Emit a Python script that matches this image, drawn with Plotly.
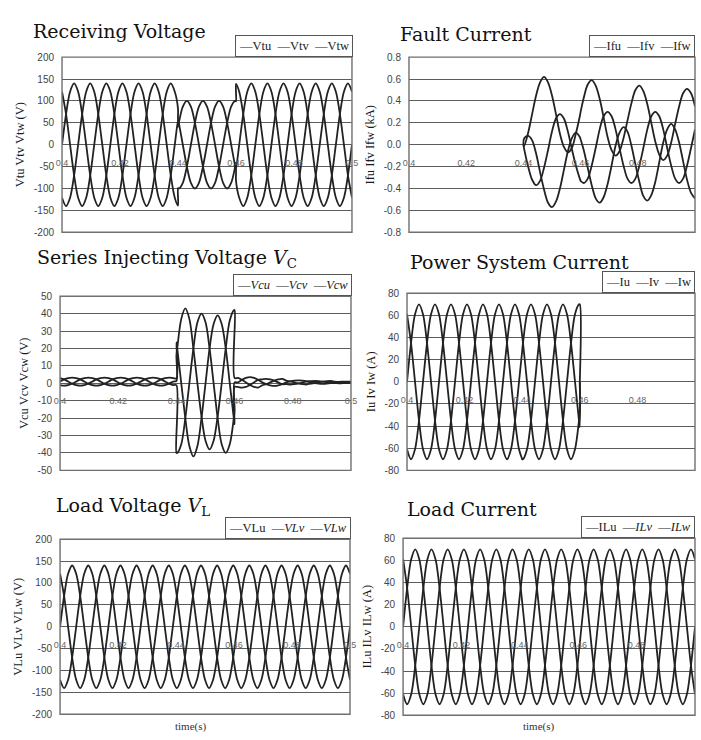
import plotly.graph_objects as go

# ---------------- sampling instants (s): 60 Hz waveforms sampled every 30 deg ----------------
TIME_GRID = [round(0.40 + k / 720.0, 6) for k in range(73)]
FAULT_START = 0.44
FAULT_END = 0.46
TIME_EVT = (TIME_GRID[:29] + [FAULT_START, FAULT_START] + TIME_GRID[29:44]
            + [FAULT_END, FAULT_END] + TIME_GRID[44:])

# ---------------- Receiving voltage (V) ----------------
Vtu = [0, 70, 121, 140, 121, 70, 0, -70, -121, -140, -121, -70,
       0, 70, 121, 140, 121, 70, 0, -70, -121, -140, -121, -70,
       0, 70, 121, 140, 121,
       82, 59,
       50, 0, -50, -87, -100, -87, -50, 0, 50, 87, 100, 87, 50, 0, -50,
       -59, -82,
       -121, -140, -121, -70, 0, 70, 121, 140, 121, 70, 0, -70,
       -121, -140, -121, -70, 0, 70, 121, 140, 121, 70, 0, -70,
       -121, -140, -121, -70, 0]
Vtv = [-121, -140, -121, -70, 0, 70, 121, 140, 121, 70, 0, -70,
       -121, -140, -121, -70, 0, 70, 121, 140, 121, 70, 0, -70,
       -121, -140, -121, -70, 0,
       57, 41,
       50, 87, 100, 87, 50, 0, -50, -87, -100, -87, -50, 0, 50, 87, 100,
       99, 139,
       121, 70, 0, -70, -121, -140, -121, -70, 0, 70, 121, 140,
       121, 70, 0, -70, -121, -140, -121, -70, 0, 70, 121, 140,
       121, 70, 0, -70, -121]
Vtw = [121, 70, 0, -70, -121, -140, -121, -70, 0, 70, 121, 140,
       121, 70, 0, -70, -121, -140, -121, -70, 0, 70, 121, 140,
       121, 70, 0, -70, -121,
       -139, -99,
       -100, -87, -50, 0, 50, 87, 100, 87, 50, 0, -50, -87, -100, -87, -50,
       -41, -57,
       0, 70, 121, 140, 121, 70, 0, -70, -121, -140, -121, -70,
       0, 70, 121, 140, 121, 70, 0, -70, -121, -140, -121, -70,
       0, 70, 121, 140, 121]

# ---------------- Fault current (kA); no trace before the fault ----------------
Ifu = [None, None, None, None, None, None, None, None, None, None, None, None, None, None, None,
       None, None, None, None, None, None, None, None, None, None, None, None, None, None,
       None, 0,
       0.06, 0.08, 0.04, -0.08, -0.25, -0.41, -0.53, -0.57, -0.52, -0.40, -0.23, -0.06, 0.06, 0.11, 0.07,
       0.05, 0.05,
       -0.05, -0.21, -0.37, -0.49, -0.53, -0.48, -0.36, -0.19, -0.01, 0.11, 0.16, 0.12,
       -0.01, -0.18, -0.34, -0.47, -0.51, -0.46, -0.34, -0.16, 0.02, 0.14, 0.19, 0.14,
       0.02, -0.15, -0.32, -0.44, -0.49]
Ifv = [None, None, None, None, None, None, None, None, None, None, None, None, None, None, None,
       None, None, None, None, None, None, None, None, None, None, None, None, None, None,
       None, 0,
       -0.04, -0.20, -0.32, -0.37, -0.33, -0.21, -0.05, 0.12, 0.24, 0.28, 0.24, 0.12, -0.04, -0.19, -0.31,
       -0.33, -0.33,
       -0.35, -0.31, -0.19, -0.03, 0.14, 0.26, 0.30, 0.26, 0.14, -0.03, -0.19, -0.31,
       -0.35, -0.31, -0.19, -0.03, 0.14, 0.26, 0.30, 0.26, 0.14, -0.03, -0.19, -0.31,
       -0.35, -0.31, -0.19, -0.03, 0.14]
Ifw = [None, None, None, None, None, None, None, None, None, None, None, None, None, None, None,
       None, None, None, None, None, None, None, None, None, None, None, None, None, None,
       None, 0,
       -0.01, 0.11, 0.28, 0.45, 0.57, 0.62, 0.57, 0.45, 0.28, 0.10, -0.02, -0.07, -0.03, 0.10, 0.26,
       0.30, 0.30,
       0.43, 0.55, 0.59, 0.54, 0.42, 0.25, 0.07, -0.05, -0.10, -0.06, 0.06, 0.22,
       0.38, 0.50, 0.54, 0.49, 0.37, 0.20, 0.03, -0.09, -0.14, -0.10, 0.02, 0.19,
       0.35, 0.47, 0.51, 0.47, 0.35]

# ---------------- Series injecting voltage Vc (V) ----------------
Vcu = [1.0, 2.2, 3.0, 3.3, 3.0, 2.2, 1.0, -0.2, -1.0, -1.3, -1.0, -0.2,
       1.0, 2.2, 3.0, 3.3, 3.0, 2.2, 1.0, -0.2, -1.0, -1.3, -1.0, -0.2,
       1.0, 2.2, 3.0, 3.3, 3.0,
       2.8, 23.5,
       20, 0, -20, -36, -42, -36, -20, 0, 20, 34, 39, 34, 20, 0, -20,
       -23.5, -2.1,
       -2.1, -2.5, -2.1, -1.0, 0.5, 2.0, 2.2, 2.5, 2.2, 1.5, 0.5, -0.5,
       -0.5, -0.7, -0.5, -0.1, 0.5, 1.1, 1.2, 1.3, 1.2, 0.9, 0.5, 0.1,
       0.1, 0.0, 0.1, 0.3, 0.5]
Vcv = [-1.0, -1.3, -1.0, -0.2, 1.0, 2.2, 3.0, 3.3, 3.0, 2.2, 1.0, -0.2,
       -1.0, -1.3, -1.0, -0.2, 1.0, 2.2, 3.0, 3.3, 3.0, 2.2, 1.0, -0.2,
       -1.0, -1.3, -1.0, -0.2, 1.0,
       1.4, 16,
       20, 37, 43, 37, 20, 0, -19, -33, -38, -33, -19, 0, 20, 36, 42,
       42, 3.0,
       3.1, 2.0, 0.5, -1.0, -2.1, -2.5, -1.2, -0.5, 0.5, 1.5, 2.2, 2.5,
       1.5, 1.1, 0.5, -0.1, -0.5, -0.7, -0.2, 0.1, 0.5, 0.9, 1.2, 1.3,
       0.9, 0.8, 0.5, 0.3, 0.1]
Vcw = [3.0, 2.2, 1.0, -0.2, -1.0, -1.3, -1.0, -0.2, 1.0, 2.2, 3.0, 3.3,
       3.0, 2.2, 1.0, -0.2, -1.0, -1.3, -1.0, -0.2, 1.0, 2.2, 3.0, 3.3,
       3.0, 2.2, 1.0, -0.2, -1.0,
       -1.1, -40,
       -40, -35, -20, 0, 20, 35, 40, 35, 20, 0, -20, -35, -40, -35, -20,
       -16, 0.5,
       0.5, 2.0, 3.1, 3.5, 3.1, 2.0, 0.5, -0.5, -1.2, -1.5, -1.2, -0.5,
       0.5, 1.1, 1.5, 1.7, 1.5, 1.1, 0.5, 0.1, -0.2, -0.3, -0.2, 0.1,
       0.5, 0.8, 0.9, 1.0, 0.9]

# ---------------- Power system current (A); recording ends at 0.46 s ----------------
Iu = [0, 35, 61, 70, 61, 35, 0, -35, -61, -70, -61, -35,
      0, 35, 61, 70, 61, 35, 0, -35, -61, -70, -61, -35,
      0, 35, 61, 70, 61,
      41, 41,
      35, 0, -35, -61, -70, -61, -35, 0, 35, 61, 70, 61, 35, 0, -35,
      -41, 0,
      None, None, None, None, None, None, None, None, None, None, None, None, None, None, None,
      None, None, None, None, None, None, None, None, None, None, None, None, None, None]
Iv = [-61, -70, -61, -35, 0, 35, 61, 70, 61, 35, 0, -35,
      -61, -70, -61, -35, 0, 35, 61, 70, 61, 35, 0, -35,
      -61, -70, -61, -35, 0,
      28, 28,
      35, 61, 70, 61, 35, 0, -35, -61, -70, -61, -35, 0, 35, 61, 70,
      70, 0,
      None, None, None, None, None, None, None, None, None, None, None, None, None, None, None,
      None, None, None, None, None, None, None, None, None, None, None, None, None, None]
Iw = [61, 35, 0, -35, -61, -70, -61, -35, 0, 35, 61, 70,
      61, 35, 0, -35, -61, -70, -61, -35, 0, 35, 61, 70,
      61, 35, 0, -35, -61,
      -70, -70,
      -70, -61, -35, 0, 35, 61, 70, 61, 35, 0, -35, -61, -70, -61, -35,
      -28, 0,
      None, None, None, None, None, None, None, None, None, None, None, None, None, None, None,
      None, None, None, None, None, None, None, None, None, None, None, None, None, None]

# ---------------- Load voltage (V) ----------------
VLu = [0, 70, 121, 140, 121, 70, 0, -70, -121, -140, -121, -70,
       0, 70, 121, 140, 121, 70, 0, -70, -121, -140, -121, -70,
       0, 70, 121, 140, 121, 70, 0, -70, -121, -140, -121, -70,
       0, 70, 121, 140, 121, 70, 0, -70, -121, -140, -121, -70,
       0, 70, 121, 140, 121, 70, 0, -70, -121, -140, -121, -70,
       0, 70, 121, 140, 121, 70, 0, -70, -121, -140, -121, -70,
       0]
VLv = [-121, -140, -121, -70, 0, 70, 121, 140, 121, 70, 0, -70,
       -121, -140, -121, -70, 0, 70, 121, 140, 121, 70, 0, -70,
       -121, -140, -121, -70, 0, 70, 121, 140, 121, 70, 0, -70,
       -121, -140, -121, -70, 0, 70, 121, 140, 121, 70, 0, -70,
       -121, -140, -121, -70, 0, 70, 121, 140, 121, 70, 0, -70,
       -121, -140, -121, -70, 0, 70, 121, 140, 121, 70, 0, -70,
       -121]
VLw = [121, 70, 0, -70, -121, -140, -121, -70, 0, 70, 121, 140,
       121, 70, 0, -70, -121, -140, -121, -70, 0, 70, 121, 140,
       121, 70, 0, -70, -121, -140, -121, -70, 0, 70, 121, 140,
       121, 70, 0, -70, -121, -140, -121, -70, 0, 70, 121, 140,
       121, 70, 0, -70, -121, -140, -121, -70, 0, 70, 121, 140,
       121, 70, 0, -70, -121, -140, -121, -70, 0, 70, 121, 140,
       121]

# ---------------- Load current (A) ----------------
ILu = [0, 35, 61, 70, 61, 35, 0, -35, -61, -70, -61, -35,
       0, 35, 61, 70, 61, 35, 0, -35, -61, -70, -61, -35,
       0, 35, 61, 70, 61, 35, 0, -35, -61, -70, -61, -35,
       0, 35, 61, 70, 61, 35, 0, -35, -61, -70, -61, -35,
       0, 35, 61, 70, 61, 35, 0, -35, -61, -70, -61, -35,
       0, 35, 61, 70, 61, 35, 0, -35, -61, -70, -61, -35,
       0]
ILv = [-61, -70, -61, -35, 0, 35, 61, 70, 61, 35, 0, -35,
       -61, -70, -61, -35, 0, 35, 61, 70, 61, 35, 0, -35,
       -61, -70, -61, -35, 0, 35, 61, 70, 61, 35, 0, -35,
       -61, -70, -61, -35, 0, 35, 61, 70, 61, 35, 0, -35,
       -61, -70, -61, -35, 0, 35, 61, 70, 61, 35, 0, -35,
       -61, -70, -61, -35, 0, 35, 61, 70, 61, 35, 0, -35,
       -61]
ILw = [61, 35, 0, -35, -61, -70, -61, -35, 0, 35, 61, 70,
       61, 35, 0, -35, -61, -70, -61, -35, 0, 35, 61, 70,
       61, 35, 0, -35, -61, -70, -61, -35, 0, 35, 61, 70,
       61, 35, 0, -35, -61, -70, -61, -35, 0, 35, 61, 70,
       61, 35, 0, -35, -61, -70, -61, -35, 0, 35, 61, 70,
       61, 35, 0, -35, -61, -70, -61, -35, 0, 35, 61, 70,
       61]

# ---------------- tick labels ----------------
X_TICKS = [0.40, 0.42, 0.44, 0.46, 0.48, 0.50]
X_TEXT = ["0.4", "0.42", "0.44", "0.46", "0.48", "0.5"]
VOLT_TICKS = [-200, -150, -100, -50, 0, 50, 100, 150, 200]
VOLT_TEXT = ["-200", "-150", "-100", "-50", "0", "50", "100", "150", "200"]
FAULT_TICKS = [-0.8, -0.6, -0.4, -0.2, 0.0, 0.2, 0.4, 0.6, 0.8]
FAULT_TEXT = ["-0.8", "-0.6", "-0.4", "-0.2", "0.0", "0.2", "0.4", "0.6", "0.8"]
VC_TICKS = [-50, -40, -30, -20, -10, 0, 10, 20, 30, 40, 50]
VC_TEXT = ["-50", "-40", "-30", "-20", "-10", "0", "10", "20", "30", "40", "50"]
CUR_TICKS = [-80, -60, -40, -20, 0, 20, 40, 60, 80]
CUR_TEXT = ["-80", "-60", "-40", "-20", "0", "20", "40", "60", "80"]

PANELS = [
    dict(title="Receiving Voltage", t=TIME_EVT, ys=[Vtu, Vtv, Vtw],
         names=["Vtu", "Vtv", "Vtw"], ylabel="Vtu Vtv Vtw (V)",
         yt=VOLT_TICKS, ytt=VOLT_TEXT, yr=[-200, 200]),
    dict(title="Fault Current", t=TIME_EVT, ys=[Ifu, Ifv, Ifw],
         names=["Ifu", "Ifv", "Ifw"], ylabel="Ifu Ifv Ifw (kA)",
         yt=FAULT_TICKS, ytt=FAULT_TEXT, yr=[-0.8, 0.8]),
    dict(title="Series Injecting Voltage <i>V</i><sub>C</sub>", t=TIME_EVT, ys=[Vcu, Vcv, Vcw],
         names=["<i>Vcu</i>", "<i>Vcv</i>", "<i>Vcw</i>"], ylabel="Vcu Vcv Vcw (V)",
         yt=VC_TICKS, ytt=VC_TEXT, yr=[-50, 50]),
    dict(title="Power System Current", t=TIME_EVT, ys=[Iu, Iv, Iw],
         names=["Iu", "Iv", "Iw"], ylabel="Iu Iv Iw (A)",
         yt=CUR_TICKS, ytt=CUR_TEXT, yr=[-80, 80]),
    dict(title="Load Voltage <i>V</i><sub>L</sub>", t=TIME_GRID, ys=[VLu, VLv, VLw],
         names=["VLu", "<i>VLv</i>", "<i>VLw</i>"], ylabel="VLu VLv VLw (V)",
         yt=VOLT_TICKS, ytt=VOLT_TEXT, yr=[-200, 200]),
    dict(title="Load Current", t=TIME_GRID, ys=[ILu, ILv, ILw],
         names=["ILu", "<i>ILv</i>", "<i>ILw</i>"], ylabel="ILu ILv ILw (A)",
         yt=CUR_TICKS, ytt=CUR_TEXT, yr=[-80, 80]),
]

# ---------------- layout geometry (pixels) ----------------
W, H = 701, 740
# (plot left, plot right, plot top, plot bottom)
BOXES = [(57, 352, 52, 230), (410, 701, 52, 230),
         (55, 351, 295, 472), (408, 701, 292, 472),
         (55, 350, 542, 720), (404, 701, 541, 721)]
TITLE_POS = [(25, 25), (399, 28), (29, 257), (409, 260), (49, 509), (406, 511)]
LEGEND_RIGHT = [353, 701, 352, 701, 351, 701]

SERIF = "DejaVu Serif"
LINE_COLOR = "#222222"
GRID_COLOR = "#5c5c5c"

fig = go.Figure()
layout = dict(width=W, height=H, margin=dict(l=0, r=0, t=0, b=0),
              paper_bgcolor="white", plot_bgcolor="white", showlegend=False,
              annotations=[], shapes=[])

for i, (p, box, tp, lr) in enumerate(zip(PANELS, BOXES, TITLE_POS, LEGEND_RIGHT), start=1):
    sfx = "" if i == 1 else str(i)
    x0, x1, y0, y1 = box
    xdom = [x0 / W, min(x1 / W, 1.0)]
    ydom = [1 - y1 / H, 1 - y0 / H]
    for y, nm in zip(p["ys"], p["names"]):
        fig.add_trace(go.Scatter(
            x=p["t"], y=y, name=nm, mode="lines", connectgaps=False,
            line=dict(color=LINE_COLOR, width=1.8, shape="spline", smoothing=0.9),
            xaxis="x" + sfx, yaxis="y" + sfx, hoverinfo="skip"))
    layout["xaxis" + sfx] = dict(
        domain=xdom, range=[0.40, 0.50], anchor="free",
        position=(ydom[0] + ydom[1]) / 2, showgrid=False, zeroline=False, showline=False,
        tickmode="array", tickvals=X_TICKS, ticktext=X_TEXT,
        ticks="outside", ticklen=9, tickcolor="rgba(0,0,0,0)",
        tickfont=dict(family="Liberation Sans", size=9, color="#666666"))
    layout["yaxis" + sfx] = dict(
        domain=ydom, range=p["yr"], anchor="x" + sfx,
        showgrid=True, gridcolor=GRID_COLOR, gridwidth=1.4, zeroline=False, showline=False,
        tickmode="array", tickvals=p["yt"], ticktext=p["ytt"],
        ticks="outside", ticklen=5, tickcolor="rgba(0,0,0,0)",
        tickfont=dict(family="Liberation Sans", size=10, color="#444444"),
        title=dict(text=p["ylabel"], standoff=6,
                   font=dict(family="Liberation Serif", size=12.5, color="#1a1a1a")))
    # plot frame
    layout["shapes"].append(dict(
        type="rect", xref="x" + sfx + " domain", yref="y" + sfx + " domain",
        x0=0, x1=1, y0=0, y1=1, line=dict(color="#6f6f6f", width=1.4), layer="above"))
    # panel title
    layout["annotations"].append(dict(
        text=p["title"], xref="paper", yref="paper", x=tp[0] / W, y=1 - tp[1] / H,
        xanchor="left", yanchor="middle", showarrow=False,
        font=dict(family=SERIF, size=19, color="#111111")))
    # boxed legend in the Excel style (line sample + series name)
    legend_text = "  ".join("\u2014" + nm for nm in p["names"])
    layout["annotations"].append(dict(
        text=legend_text, xref="paper", yref="paper", x=lr / W, y=1 - y0 / H,
        xanchor="right", yanchor="bottom", showarrow=False,
        bgcolor="white", bordercolor="#555555", borderwidth=1, borderpad=3,
        font=dict(family="Liberation Serif", size=12.5, color="#222222")))

for xc in (188, 542):
    layout["annotations"].append(dict(
        text="time(s)", xref="paper", yref="paper", x=xc / W, y=1 - 732 / H,
        xanchor="center", yanchor="middle", showarrow=False,
        font=dict(family="Liberation Serif", size=11, color="#333333")))

fig.update_layout(**layout)
fig.write_html("out.html", config={"displayModeBar": False},
               post_script="document.body.style.margin='0px';document.body.style.overflow='hidden';")
